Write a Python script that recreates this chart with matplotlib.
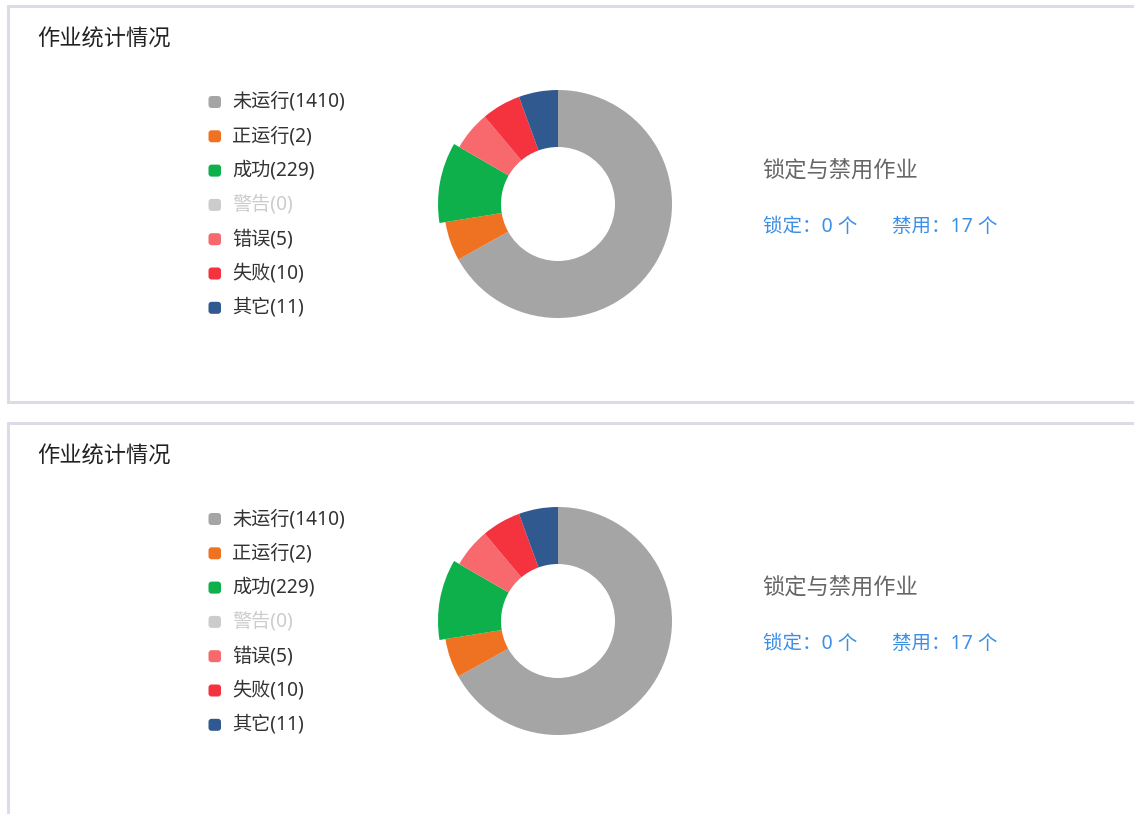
import matplotlib
matplotlib.use("Agg")
import matplotlib.pyplot as plt
from matplotlib.patches import Wedge, Rectangle, FancyBboxPatch

# latin glyphs from Noto Sans, CJK glyphs fall through to the CJK family
plt.rcParams['font.family'] = ['Noto Sans', 'Noto Sans CJK SC', 'DejaVu Sans']

# chart data
title = "作业统计情况"
labels = ["未运行", "正运行", "成功", "警告", "错误", "失败", "其它"]
values = [1410, 2, 229, 0, 5, 10, 11]
colors = ["#a5a5a5", "#ef7222", "#0db04b", "#cccccc", "#f7696d", "#f4333f", "#30598f"]
shown = [True, True, True, False, True, True, True]   # 警告 is switched off in the legend
side_title = "锁定与禁用作业"
locked_count = 0
disabled_count = 17

min_angle = 20      # small slices get at least this many degrees
highlight = 2       # the "成功" slice is drawn pulled out

# echarts-style angle layout with minAngle
vis = [v if s else 0 for v, s in zip(values, shown)]
total = sum(vis)
angles = [v / total * 360 for v in vis]
rest = 360.0
big_sum = 0.0
small = [False] * len(vis)
for i, a in enumerate(angles):
    if not shown[i] or vis[i] == 0:
        angles[i] = 0
    elif a < min_angle:
        angles[i] = min_angle
        small[i] = True
        rest -= min_angle
    else:
        big_sum += vis[i]
if rest < 360:
    for i in range(len(vis)):
        if angles[i] > 0 and not small[i]:
            angles[i] = rest * vis[i] / big_sum

fig = plt.figure(figsize=(11.34, 8.14), dpi=100)
ax = fig.add_axes([0, 0, 1, 1])
ax.set_xlim(0, 1134)
ax.set_ylim(814, 0)
ax.axis("off")


def draw_panel(dy):
    # card frame
    ax.add_patch(Rectangle((8, 6 + dy), 1140, 396, facecolor="white",
                           edgecolor="#dcdce6", lw=2.2))
    ax.text(37, 40 + dy, title, fontsize=16, color="#222222", va="center", ha="left")

    # legend
    for i, (lab, val, col) in enumerate(zip(labels, values, colors)):
        y = 102 + i * 34.3 + dy
        c = col if shown[i] else "#cccccc"
        ax.add_patch(FancyBboxPatch((208.5, y - 6), 12.5, 12,
                                    boxstyle="round,pad=0,rounding_size=3",
                                    facecolor=c, edgecolor="none"))
        ax.text(232, y, f"{lab}({val})", fontsize=13.8,
                color="#333333" if shown[i] else "#cccccc", va="center", ha="left")

    # donut, clockwise from 12 o'clock (y axis is inverted)
    cx, cy = 558, 204 + dy
    start = -90.0
    for i, a in enumerate(angles):
        if a <= 0:
            continue
        r = 120 if i == highlight else 114
        ax.add_patch(Wedge((cx, cy), r, start, start + a, width=r - 57,
                           facecolor=colors[i], edgecolor="none"))
        start += a

    # locked / disabled info
    ax.text(762, 171 + dy, side_title, fontsize=16, color="#666666", va="center", ha="left")
    ax.text(763, 227 + dy, f"锁定：{locked_count} 个", fontsize=14, color="#3d8fe6",
            va="center", ha="left")
    ax.text(892, 227 + dy, f"禁用：{disabled_count} 个", fontsize=14, color="#3d8fe6",
            va="center", ha="left")


draw_panel(0)
draw_panel(417)

fig.savefig("out.png", dpi=100, facecolor="white")
